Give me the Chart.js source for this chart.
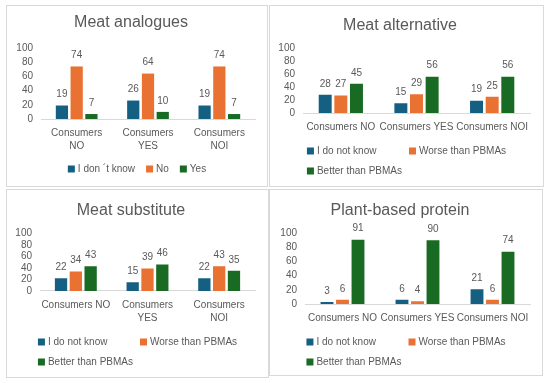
<!DOCTYPE html>
<html>
<head>
<meta charset="utf-8">
<script src="https://cdn.jsdelivr.net/npm/chart.js@4.4.1/dist/chart.umd.min.js"></script>
<style>
    body { margin: 0; width: 550px; height: 383px; position: relative; overflow: hidden; background: #fff; }
    .panel { position: absolute; box-sizing: border-box; border: 1px solid #d9d9d9; background: #fff; }
    .panel canvas { display: block; }
</style>
</head>
<body>
<div class="panel" style="left:6px;top:5px;width:262px;height:182px"><canvas id="analogues" width="260" height="180"></canvas></div>
<div class="panel" style="left:269px;top:5px;width:275px;height:182px"><canvas id="alternative" width="273" height="180"></canvas></div>
<div class="panel" style="left:6px;top:189px;width:263px;height:189px"><canvas id="substitute" width="261" height="187"></canvas></div>
<div class="panel" style="left:269px;top:189px;width:274px;height:187px"><canvas id="plant" width="272" height="185"></canvas></div>
<script>
// categories
const analoguesLabels = [["Consumers", "NO"], ["Consumers", "YES"], ["Consumers", "NOI"]];
const alternativeLabels = ["Consumers NO", "Consumers YES", "Consumers NOI"];
const substituteLabels = ["Consumers NO", ["Consumers", "YES"], ["Consumers", "NOI"]];
const plantLabels = ["Consumers NO", "Consumers YES", "Consumers NOI"];

// series names
const analoguesSeries = ["I don \u00b4t know", "No", "Yes"];
const opinionSeries = ["I do not know", "Worse than PBMAs", "Better than PBMAs"];

// values (%)
const analoguesDontKnow = [19, 26, 19];
const analoguesNo = [74, 64, 74];
const analoguesYes = [7, 10, 7];

const alternativeDontKnow = [28, 15, 19];
const alternativeWorse = [27, 29, 25];
const alternativeBetter = [45, 56, 56];

const substituteDontKnow = [22, 15, 22];
const substituteWorse = [34, 39, 43];
const substituteBetter = [43, 46, 35];

const plantDontKnow = [3, 6, 21];
const plantWorse = [6, 4, 6];
const plantBetter = [91, 90, 74];

// y tick labels
const yTicks = [0, 20, 40, 60, 80, 100];

const seriesColors = ["#156082", "#E97132", "#196B24"];
const textColor = "#595959";
const fontFamily = "'Liberation Sans', Arial, sans-serif";
const smallSize = 10;

document.addEventListener("DOMContentLoaded", function() {
    Chart.defaults.font.family = fontFamily;
    Chart.defaults.color = textColor;

    // numbers above the bars
    let valueLabels = {
        id: "valueLabels",
        afterDatasetsDraw: function(chart) {
            let ctx = chart.ctx;
            ctx.save();
            ctx.font = smallSize + "px " + fontFamily;
            ctx.fillStyle = textColor;
            ctx.textAlign = "center";
            ctx.textBaseline = "middle";
            chart.data.datasets.forEach(function(ds, i) {
                chart.getDatasetMeta(i).data.forEach(function(bar, j) {
                    ctx.fillText(ds.data[j], bar.x, bar.y - 11);
                });
            });
            ctx.restore();
        }
    };

    // excel-like legend: one row if it fits, otherwise equal columns
    let gridLegend = {
        id: "gridLegend",
        afterDraw: function(chart) {
            let ctx = chart.ctx;
            let box = 7, gap = 3, spacing = 11, rowHeight = 20;
            ctx.save();
            ctx.font = smallSize + "px " + fontFamily;
            ctx.textBaseline = "middle";
            ctx.textAlign = "left";
            let items = chart.data.datasets.map(function(ds) {
                return { text: ds.label, color: ds.backgroundColor, w: box + gap + ctx.measureText(ds.label).width };
            });
            let drawItem = function(it, x, y) {
                ctx.fillStyle = it.color;
                ctx.fillRect(x, y - box / 2, box, box);
                ctx.fillStyle = textColor;
                ctx.fillText(it.text, x + box + gap, y);
            };
            let y = chart.scales.x.bottom + 14;
            let natural = items.reduce(function(s, it) { return s + it.w; }, 0) + spacing * (items.length - 1);
            if (natural <= chart.width - 20) {
                let x = (chart.width - natural) / 2;
                items.forEach(function(it) {
                    drawItem(it, x, y);
                    x += it.w + spacing;
                });
            } else {
                let colW = Math.max.apply(null, items.map(function(it) { return it.w; })) + 5;
                let cols = Math.max(1, Math.floor((chart.width - 20) / colW));
                let firstRow = items.slice(0, cols);
                let rowW = colW * (firstRow.length - 1) + firstRow[firstRow.length - 1].w;
                let left = (chart.width - rowW) / 2;
                items.forEach(function(it, k) {
                    drawItem(it, left + (k % cols) * colW, y + Math.floor(k / cols) * rowHeight);
                });
            }
            ctx.restore();
        }
    };

    let makeChart = function(id, title, labels, names, values, L) {
        let datasets = names.map(function(name, i) {
            return {
                label: name,
                data: values[i],
                backgroundColor: seriesColors[i],
                barPercentage: 0.83,
                categoryPercentage: 0.62
            };
        });
        new Chart(document.getElementById(id).getContext("2d"), {
            type: "bar",
            data: { labels: labels, datasets: datasets },
            options: {
                responsive: false,
                animation: false,
                devicePixelRatio: 1,
                layout: { padding: { left: 0, right: L.right, top: 0, bottom: L.legendSpace } },
                plugins: {
                    legend: { display: false },
                    tooltip: { enabled: false },
                    title: {
                        display: true,
                        text: title,
                        color: textColor,
                        font: { size: 16, weight: "normal", lineHeight: 1.2 },
                        padding: { top: L.titleTop, bottom: L.titleBottom }
                    }
                },
                scales: {
                    x: {
                        grid: { display: false, drawTicks: false },
                        border: { display: true, color: "#d9d9d9" },
                        ticks: { padding: 8, maxRotation: 0, minRotation: 0, autoSkip: false, font: { size: smallSize, lineHeight: 1.3 } },
                        afterFit: function(scale) { scale.height = L.xHeight; }
                    },
                    y: {
                        min: yTicks[0],
                        max: yTicks[yTicks.length - 1],
                        grid: { display: false, drawTicks: false },
                        border: { display: false },
                        ticks: { stepSize: yTicks[1] - yTicks[0], autoSkip: false, padding: 8, font: { size: smallSize } },
                        afterFit: function(scale) { scale.width = L.yWidth; }
                    }
                }
            },
            plugins: [valueLabels, gridLegend]
        });
    };

    makeChart("analogues", "Meat analogues", analoguesLabels, analoguesSeries,
        [analoguesDontKnow, analoguesNo, analoguesYes],
        { titleTop: 6.5, titleBottom: 16.3, yWidth: 34, right: 12, xHeight: 36, legendSpace: 31 });
    makeChart("alternative", "Meat alternative", alternativeLabels, opinionSeries,
        [alternativeDontKnow, alternativeWorse, alternativeBetter],
        { titleTop: 9.5, titleBottom: 13.5, yWidth: 33, right: 13, xHeight: 24, legendSpace: 49 });
    makeChart("substitute", "Meat substitute", substituteLabels, opinionSeries,
        [substituteDontKnow, substituteWorse, substituteBetter],
        { titleTop: 10.5, titleBottom: 13.6, yWidth: 33, right: 13, xHeight: 37, legendSpace: 49 });
    makeChart("plant", "Plant-based protein", plantLabels, opinionSeries,
        [plantDontKnow, plantWorse, plantBetter],
        { titleTop: 10.5, titleBottom: 13.6, yWidth: 35, right: 12, xHeight: 24, legendSpace: 47 });
});
</script>
</body>
</html>
